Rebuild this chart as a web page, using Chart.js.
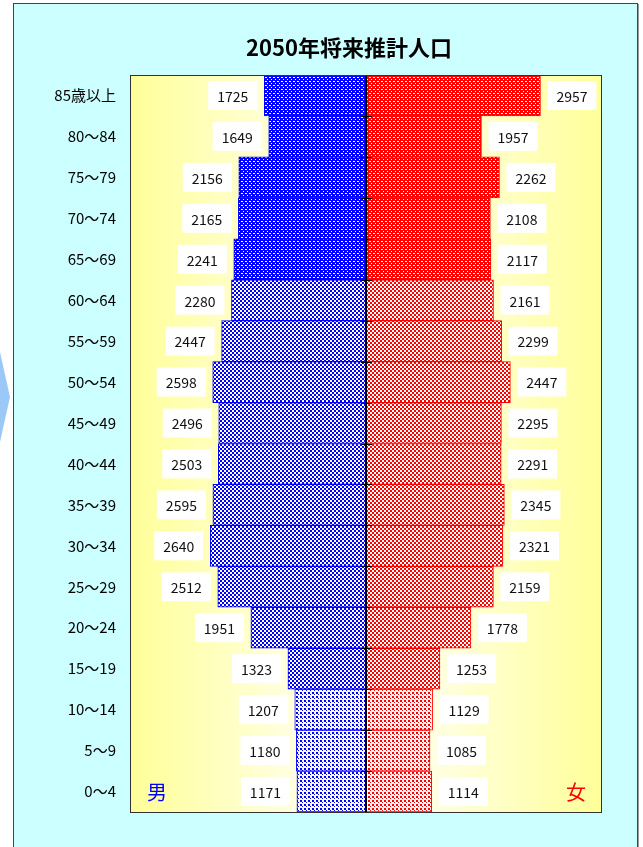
<!DOCTYPE html>
<html>
<head>
<meta charset="utf-8">
<script src="https://cdn.jsdelivr.net/npm/chart.js@4/dist/chart.umd.min.js"></script>
<style>
  body { margin: 0; background: #fff; }
  #wrap { position: relative; width: 643px; height: 847px; overflow: hidden; }
  #panel { position: absolute; left: 13px; top: 3px; width: 623px; height: 860px;
           background: #ccffff; border: 1px solid #444; box-shadow: 1px 1px 0 #999; }
  #arrow { position: absolute; left: 0; top: 352px; width: 10px; height: 90px;
           background: #9cc8f8; clip-path: polygon(0 0, 100% 50%, 0 100%); }
  #box { position: absolute; left: 0; top: 0; width: 643px; height: 847px; }
</style>
</head>
<body>
<div id="wrap">
  <div id="arrow"></div>
  <div id="panel"></div>
  <div id="box"><canvas id="canvas"></canvas></div>
</div>
<script>
var ageGroups = ["85歳以上", "80～84", "75～79", "70～74", "65～69", "60～64", "55～59", "50～54",
  "45～49", "40～44", "35～39", "30～34", "25～29", "20～24", "15～19", "10～14", "5～9", "0～4"];
var male = [1725, 1649, 2156, 2165, 2241, 2280, 2447, 2598, 2496, 2503, 2595, 2640, 2512, 1951, 1323, 1207, 1180, 1171];
var female = [2957, 1957, 2262, 2108, 2117, 2161, 2299, 2447, 2295, 2291, 2345, 2321, 2159, 1778, 1253, 1129, 1085, 1114];

// 0-4: 65歳以上, 5-14: 15-64歳, 15-17: 0-14歳
function bandOf(i) { return i < 5 ? 0 : (i < 15 ? 1 : 2); }

function makePattern(color, kind) {
  var c = document.createElement("canvas");
  c.width = 4; c.height = 4;
  var g = c.getContext("2d");
  if (kind == 0) {
    // white dots on solid colour
    g.fillStyle = color; g.fillRect(0, 0, 4, 4);
    g.fillStyle = "#fff"; g.fillRect(1, 1, 2, 1); g.fillRect(3, 3, 1, 1);
  } else if (kind == 1) {
    // checker
    g.fillStyle = "#fff"; g.fillRect(0, 0, 4, 4);
    g.fillStyle = color; g.fillRect(0, 0, 2, 2); g.fillRect(2, 2, 2, 2);
  } else {
    // coloured dots on white
    g.fillStyle = "#fff"; g.fillRect(0, 0, 4, 4);
    g.fillStyle = color; g.fillRect(0, 0, 2, 2); g.fillRect(2, 2, 1, 1);
  }
  return g.createPattern(c, "repeat");
}

var bluePat = [makePattern("#0000ff", 0), makePattern("#0000ff", 1), makePattern("#0000ff", 2)];
var redPat = [makePattern("#ff0000", 0), makePattern("#ff0000", 1), makePattern("#ff0000", 2)];

var plotBack = {
  id: "plotBack",
  beforeDatasetsDraw: function(chart) {
    var a = chart.chartArea, c = chart.ctx;
    var gr = c.createLinearGradient(a.left, 0, a.right, 0);
    gr.addColorStop(0, "#ffff99");
    gr.addColorStop(0.5, "#ffffff");
    gr.addColorStop(1, "#ffff99");
    c.save();
    c.fillStyle = gr;
    c.fillRect(a.left, a.top, a.right - a.left, a.bottom - a.top);
    c.restore();
  },
  afterDatasetsDraw: function(chart) {
    var a = chart.chartArea, c = chart.ctx;
    var xs = chart.scales.x, ys = chart.scales.y;
    var x0 = xs.getPixelForValue(0);
    c.save();
    // center axis with ticks between age groups
    c.strokeStyle = "#000";
    c.lineWidth = 2;
    c.beginPath();
    c.moveTo(x0, a.top); c.lineTo(x0, a.bottom);
    c.stroke();
    c.lineWidth = 1;
    for (var i = 0; i < ageGroups.length - 1; i++) {
      var yb = Math.round((ys.getPixelForValue(i) + ys.getPixelForValue(i + 1)) / 2) + 0.5;
      c.beginPath(); c.moveTo(x0 - 5, yb); c.lineTo(x0 + 6, yb); c.stroke();
    }
    // value boxes
    c.font = "14px 'Noto Sans CJK JP', sans-serif";
    c.textAlign = "center";
    c.textBaseline = "middle";
    chart.data.datasets.forEach(function(ds, di) {
      chart.getDatasetMeta(di).data.forEach(function(bar, i) {
        var w = 49, h = 29, left;
        if (di == 0) left = bar.x - 7 - w; else left = bar.x + 7;
        c.fillStyle = "#fff";
        c.fillRect(left, bar.y - h / 2, w, h);
        c.fillStyle = "#111";
        c.fillText(String(Math.abs(ds.data[i])), left + w / 2, bar.y + 1);
      });
    });
    // frame
    c.strokeStyle = "#333";
    c.lineWidth = 1;
    c.strokeRect(a.left + 0.5, a.top + 0.5, a.right - a.left - 1, a.bottom - a.top);
    c.restore();
  },
  afterDraw: function(chart) {
    var c = chart.ctx, a = chart.chartArea;
    c.save();
    c.textAlign = "center";
    c.textBaseline = "middle";
    c.fillStyle = "#000";
    c.font = "bold 22px 'Noto Sans CJK JP', sans-serif";
    c.fillText("2050年将来推計人口", 349, 48);
    c.font = "20px 'Noto Sans CJK JP', sans-serif";
    c.fillStyle = "#0000ff";
    c.fillText("男", a.left + 27, a.bottom - 20);
    c.fillStyle = "#ff0000";
    c.fillText("女", a.right - 26, a.bottom - 20);
    c.restore();
  }
};

new Chart(document.getElementById("canvas"), {
  type: "bar",
  data: {
    labels: ageGroups,
    datasets: [{
      label: "男",
      data: male.map(function(v) { return -v; }),
      backgroundColor: function(ctx) { return bluePat[bandOf(ctx.dataIndex)]; },
      borderColor: "#0000ff",
      borderWidth: 1,
      borderSkipped: false
    }, {
      label: "女",
      data: female,
      backgroundColor: function(ctx) { return redPat[bandOf(ctx.dataIndex)]; },
      borderColor: "#ff0000",
      borderWidth: 1,
      borderSkipped: false
    }]
  },
  options: {
    indexAxis: "y",
    responsive: true,
    maintainAspectRatio: false,
    animation: false,
    layout: { padding: { top: 75, bottom: 35, right: 41, left: 0 } },
    datasets: { bar: { barPercentage: 1, categoryPercentage: 1 } },
    plugins: { legend: { display: false }, tooltip: { enabled: false } },
    scales: {
      x: { display: false, stacked: true, min: -4000, max: 4000 },
      y: {
        stacked: true,
        grid: { display: false, drawTicks: false },
        border: { display: false },
        ticks: { color: "#000", padding: 14, font: { size: 15, family: "'Noto Sans CJK JP', sans-serif" } },
        afterFit: function(scale) { scale.width = 130; }
      }
    }
  },
  plugins: [plotBack]
});
</script>
</body>
</html>
